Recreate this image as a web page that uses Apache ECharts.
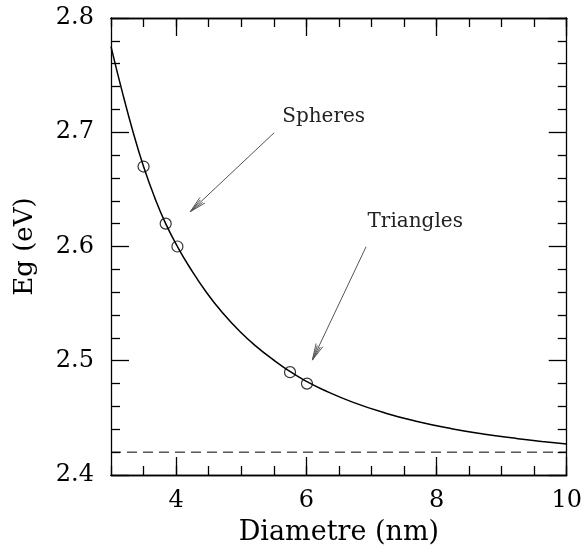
<!DOCTYPE html>
<html>
<head>
<meta charset="utf-8">
<script src="https://cdn.jsdelivr.net/npm/echarts@6/dist/echarts.min.js"></script>
<style>
html,body{margin:0;padding:0;background:#fff;}
#chart{width:585px;height:552px;}
</style>
</head>
<body>
<div id="chart"></div>
<script>
// Curve: [diameter (nm), Eg (eV)]
var curveX = [3.0, 3.17, 3.34, 3.5, 3.67, 3.84, 4.02, 4.21, 4.47, 4.72, 4.98, 5.23, 5.49, 5.74, 6.0, 6.25, 6.71, 7.22, 7.72, 8.23, 8.74, 9.25, 9.62, 10.0];
var curveY = [2.775, 2.736, 2.700, 2.670, 2.643, 2.620, 2.600, 2.5816, 2.5595, 2.5415, 2.5256, 2.5126, 2.501, 2.491, 2.482, 2.4748, 2.4638, 2.4541, 2.4466, 2.4405, 2.4357, 2.4318, 2.4294, 2.4272];
// Measured points (circles)
var pointX = [3.5, 3.84, 4.02, 5.75, 6.01];
var pointY = [2.670, 2.620, 2.600, 2.490, 2.480];
// Asymptote (dashed)
var limitX = [3, 10];
var limitY = [2.42, 2.42];
// Annotations
var annoText = ['Spheres', 'Triangles'];
var annoTextX = [5.63, 6.94];
var annoTextY = [2.7133, 2.6217];
var arrowFromX = [5.507, 6.918];
var arrowFromY = [2.6996, 2.5998];
var arrowToX = [4.218, 6.093];
var arrowToY = [2.6305, 2.5006];
// Tick labels
var xMajorTicks = [4, 6, 8, 10];
var yTickLabels = ['2.4', '2.5', '2.6', '2.7', '2.8'];

var FONT = 'DejaVu Serif';
var chart = echarts.init(document.getElementById('chart'), null, {renderer: 'canvas'});

function zip(a, b) { return a.map(function (v, i) { return [v, b[i]]; }); }

var annoData = annoText.map(function (t, i) {
  return [arrowFromX[i], arrowFromY[i], arrowToX[i], arrowToY[i], annoTextX[i], annoTextY[i], i];
});

var lineStyleAxis = {color: '#000', width: 1.3};

function xAxisBase(pos) {
  return {
    type: 'value', min: 3, max: 10, position: pos,
    axisLine: {show: true, onZero: false, lineStyle: lineStyleAxis},
    splitLine: {show: false}
  };
}

var option = {
  backgroundColor: '#fff',
  animation: false,
  grid: {left: 111, right: 16, top: 18, bottom: 77, containLabel: false},
  xAxis: [
    Object.assign(xAxisBase('bottom'), {
      interval: 0.5,
      axisTick: {show: true, inside: true, length: 9, lineStyle: lineStyleAxis},
      axisLabel: {show: false}
    }),
    Object.assign(xAxisBase('bottom'), {
      name: 'Diametre (nm)', nameLocation: 'middle', nameGap: 44,
      nameTextStyle: {fontFamily: FONT, fontSize: 27, color: '#000'},
      axisTick: {show: true, inside: true, length: 18, customValues: xMajorTicks, lineStyle: lineStyleAxis},
      axisLabel: {show: true, customValues: xMajorTicks, fontFamily: FONT, fontSize: 24, color: '#000', margin: 14,
        formatter: function (v) { return String(v); }}
    }),
    Object.assign(xAxisBase('top'), {
      interval: 0.5,
      axisTick: {show: true, inside: true, length: 9, lineStyle: lineStyleAxis},
      axisLabel: {show: false}
    }),
    Object.assign(xAxisBase('top'), {
      axisTick: {show: true, inside: true, length: 18, customValues: xMajorTicks, lineStyle: lineStyleAxis},
      axisLabel: {show: false}
    })
  ],
  yAxis: [
    {
      type: 'value', min: 2.4, max: 2.8, interval: 0.1, position: 'left',
      name: 'Eg (eV)', nameLocation: 'middle', nameGap: 73, nameRotate: 90,
      nameTextStyle: {fontFamily: FONT, fontSize: 26, color: '#000'},
      axisLine: {show: true, onZero: false, lineStyle: lineStyleAxis},
      axisTick: {show: true, inside: true, length: 18, lineStyle: lineStyleAxis},
      minorTick: {show: true, splitNumber: 5, length: 9, lineStyle: lineStyleAxis},
      splitLine: {show: false}, minorSplitLine: {show: false},
      axisLabel: {fontFamily: FONT, fontSize: 24, color: '#000', margin: 17,
        formatter: function (v) { return yTickLabels[Math.round((v - 2.4) * 10)]; }}
    },
    {
      type: 'value', min: 2.4, max: 2.8, interval: 0.1, position: 'right',
      axisLine: {show: true, onZero: false, lineStyle: lineStyleAxis},
      axisTick: {show: true, inside: true, length: 18, lineStyle: lineStyleAxis},
      minorTick: {show: true, splitNumber: 5, length: 9, lineStyle: lineStyleAxis},
      splitLine: {show: false}, minorSplitLine: {show: false},
      axisLabel: {show: false}
    }
  ],
  series: [
    {
      name: 'Eg', type: 'line', xAxisIndex: 0, yAxisIndex: 0,
      data: zip(curveX, curveY), smooth: 0.5, showSymbol: false, symbol: 'none',
      lineStyle: {color: '#000', width: 1.5}, z: 3
    },
    {
      name: 'limit', type: 'line', xAxisIndex: 0, yAxisIndex: 0,
      data: zip(limitX, limitY), showSymbol: false, symbol: 'none',
      lineStyle: {color: '#000', width: 1, type: [10, 6]}, z: 2
    },
    {
      name: 'points', type: 'scatter', xAxisIndex: 0, yAxisIndex: 0,
      data: zip(pointX, pointY), symbol: 'circle', symbolSize: 11,
      itemStyle: {color: 'rgba(0,0,0,0)', borderColor: '#000', borderWidth: 1.2}, z: 4
    },
    {
      name: 'annotations', type: 'custom', xAxisIndex: 0, yAxisIndex: 0,
      data: annoData,
      renderItem: function (params, api) {
        var p0 = api.coord([api.value(0), api.value(1)]);
        var p1 = api.coord([api.value(2), api.value(3)]);
        var pt = api.coord([api.value(4), api.value(5)]);
        var idx = api.value(6);
        var ang = Math.atan2(p0[1] - p1[1], p0[0] - p1[0]);
        var L = 17, spread = 0.22;
        var a1 = [p1[0] + L * Math.cos(ang + spread), p1[1] + L * Math.sin(ang + spread)];
        var a2 = [p1[0] + L * Math.cos(ang - spread), p1[1] + L * Math.sin(ang - spread)];
        var a3 = [p1[0] + L * 0.9 * Math.cos(ang + spread * 0.5), p1[1] + L * 0.9 * Math.sin(ang + spread * 0.5)];
        var a4 = [p1[0] + L * 0.9 * Math.cos(ang - spread * 0.5), p1[1] + L * 0.9 * Math.sin(ang - spread * 0.5)];
        var st = {stroke: '#555', lineWidth: 1, fill: null};
        return {
          type: 'group',
          children: [
            {type: 'polyline', shape: {points: [p0, p1]}, style: st},
            {type: 'polyline', shape: {points: [a1, p1, a2]}, style: st},
            {type: 'polyline', shape: {points: [a3, p1, a4]}, style: st},
            {type: 'text', x: pt[0], y: pt[1],
              style: {text: annoText[idx], fontFamily: FONT, fontSize: 20, fill: '#222',
                align: 'left', verticalAlign: 'middle'}}
          ]
        };
      },
      z: 5
    }
  ]
};
chart.setOption(option);
</script>
</body>
</html>
